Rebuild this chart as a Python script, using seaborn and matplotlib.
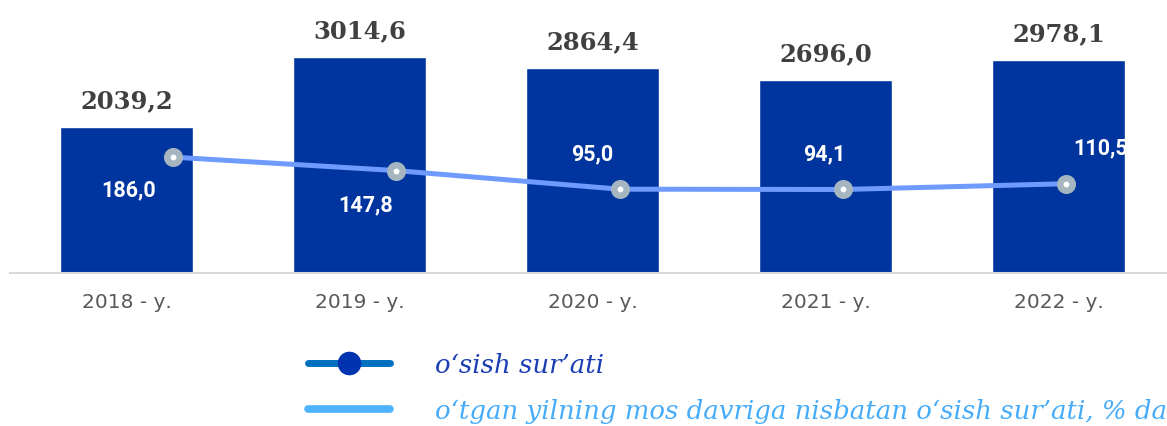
import matplotlib
matplotlib.use("Agg")
import matplotlib.pyplot as plt
import seaborn as sns
from matplotlib.lines import Line2D

# data
years = ["2018 - у.", "2019 - у.", "2020 - у.", "2021 - у.", "2022 - у."]
volume = [2039.2, 3014.6, 2864.4, 2696.0, 2978.1]
growth = [186.0, 147.8, 95.0, 94.1, 110.5]
legend_labels = ["o‘sish sur’ati",
                 "o‘tgan yilning mos davriga nisbatan o‘sish sur’ati, % da"]

# label offsets for the line values (points) and alignment
growth_offsets = [(-32, -23), (-22, -24), (-20, 26), (-13, 26), (5, 26)]
growth_ha = ["center", "center", "center", "center", "left"]

sns.set_style("white")

fig = plt.figure(figsize=(11.67, 4.27), dpi=100)
rect = [10 / 1167, 153 / 427, 1165 / 1167, 274 / 427]
ax = fig.add_axes(rect)

sns.barplot(x=years, y=volume, color="#0035A0", saturation=1, width=0.57, ax=ax)
ax.set_xlim(-0.5, 4.5)
ax.set_ylim(0, 3824)
for s in ["top", "right", "left"]:
    ax.spines[s].set_visible(False)
ax.spines["bottom"].set_color("#D9D9D9")
ax.spines["bottom"].set_linewidth(1.5)
ax.set_yticks([])
ax.set_xlabel("")
ax.set_ylabel("")
ax.tick_params(axis="x", length=0, pad=14, labelsize=14.5, labelcolor="#595959")

for i, v in enumerate(volume):
    ax.annotate(f"{v:.1f}".replace(".", ","), xy=(i, v), xytext=(0, 14),
                textcoords="offset points", ha="center", va="baseline",
                family="DejaVu Serif", weight="bold", fontsize=17.5, color="#404040")

# growth line on its own overlay axes (Excel-like secondary axis)
ax2 = fig.add_axes(rect)
ax2.patch.set_visible(False)
ax2.axis("off")
idx = list(range(len(growth)))
ax2.plot(idx, growth, color="#6F9BFF", lw=3.6, marker="o", ms=9,
         mfc="white", mec="#A6B6C0", mew=4.7, zorder=3)
ax2.set_xlim(-0.730, 4.488)
ax2.set_ylim(-143, 635)

for i, g in enumerate(growth):
    ax2.annotate(f"{g:.1f}".replace(".", ","), xy=(i, g), xytext=growth_offsets[i],
                 textcoords="offset points", ha=growth_ha[i], va="center",
                 family="Roboto", weight="bold", fontsize=15.5, color="white")

handles = [
    Line2D([], [], color="#0070C0", lw=5, marker="o", ms=16, mfc="#0033B0",
           mec="#0033B0", solid_capstyle="round"),
    Line2D([], [], color="#4DB3FF", lw=5.5, solid_capstyle="round"),
]
fig.legend(handles=handles, labels=legend_labels, loc="upper left",
           bbox_to_anchor=(308 / 1167, 0.173), frameon=False,
           prop=dict(family="DejaVu Serif", style="italic", size=18.7),
           labelcolor=["#1A3DB5", "#46ACFA"], handlelength=3.15,
           handletextpad=1.73, labelspacing=0.8, borderpad=0, borderaxespad=0)

fig.savefig("out.png", dpi=100)
